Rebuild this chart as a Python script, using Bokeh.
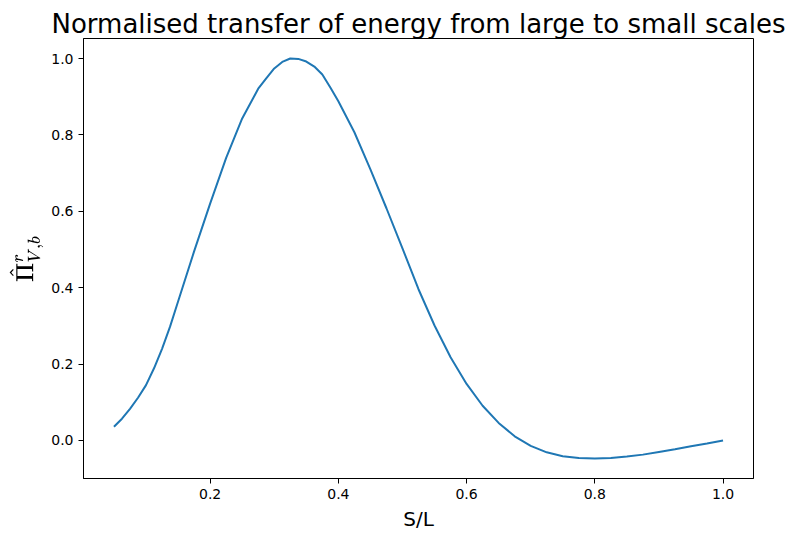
from bokeh.plotting import figure
from bokeh.models import Range1d, FixedTicker, NumeralTickFormatter
from bokeh.embed import file_html
from bokeh.resources import INLINE

s_over_l = [0.05, 0.0625, 0.075, 0.0875, 0.1, 0.1125, 0.125, 0.1375, 0.15, 0.175, 0.2,
            0.225, 0.25, 0.275,
            0.2875, 0.3, 0.3125, 0.325, 0.3375, 0.35, 0.3625, 0.375, 0.3875, 0.4,
            0.425, 0.45, 0.475, 0.5, 0.525,
            0.55, 0.575, 0.6, 0.625, 0.65, 0.675, 0.7, 0.725, 0.75, 0.775,
            0.8, 0.825, 0.85, 0.875, 0.9, 0.925, 0.95, 0.975, 1.0]
pi_hat = [0.036, 0.057, 0.083, 0.112, 0.145, 0.189, 0.240, 0.298, 0.364, 0.495, 0.620,
          0.740, 0.843, 0.921,
          0.948, 0.974, 0.991, 1.0, 0.999, 0.992, 0.979, 0.958, 0.924, 0.888,
          0.807, 0.710, 0.608, 0.503, 0.396,
          0.301, 0.218, 0.148, 0.091, 0.046, 0.011, -0.014, -0.031, -0.041, -0.046,
          -0.047, -0.046, -0.042, -0.037, -0.030, -0.023, -0.015, -0.008, 0.0]
x_ticks = [0.2, 0.4, 0.6, 0.8, 1.0]
y_ticks = [0.0, 0.2, 0.4, 0.6, 0.8, 1.0]

p = figure(width=799, height=533, output_backend="svg", toolbar_location=None,
           x_range=Range1d(0.0025, 1.0475), y_range=Range1d(-0.0995, 1.0524),
           min_border_left=83, min_border_right=46, min_border_top=38, min_border_bottom=51)
p.title.text = "Normalised transfer of energy from large to small scales"
p.title.text_font = "DejaVu Sans"
p.title.text_font_size = "26px"
p.title.text_font_style = "normal"
p.title.align = "center"
p.title.text_color = "black"
p.title.standoff = 0
p.title.offset = 0

p.line(s_over_l, pi_hat, line_color="#1f77b4", line_width=2)

p.grid.visible = False
p.outline_line_color = "black"
p.outline_line_width = 1

p.xaxis.ticker = FixedTicker(ticks=x_ticks)
p.yaxis.ticker = FixedTicker(ticks=y_ticks)
for ax in (p.xaxis[0], p.yaxis[0]):
    ax.formatter = NumeralTickFormatter(format="0.0")
    ax.major_label_text_font = "DejaVu Sans"
    ax.major_label_text_font_size = "14px"
    ax.major_label_text_color = "black"
    ax.axis_label_text_font = "DejaVu Sans"
    ax.axis_label_text_font_size = "20px"
    ax.axis_label_text_font_style = "normal"
    ax.axis_label_text_color = "black"
    ax.minor_tick_line_color = None
    ax.major_tick_out = 5
    ax.major_tick_in = 0
    ax.axis_line_color = "black"
    ax.major_tick_line_color = "black"
p.xaxis.axis_label = "S/L"
p.yaxis.axis_label = r"$$\hat{\Pi}^r_{V,b}$$"

open("out.html", "w").write(file_html(p, INLINE))
